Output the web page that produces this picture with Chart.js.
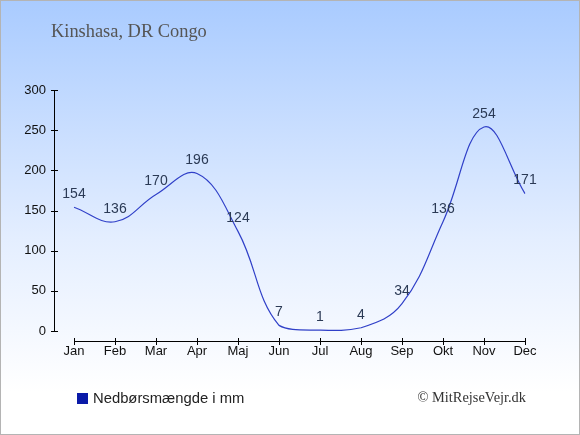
<!DOCTYPE html>
<html>
<head>
<meta charset="utf-8">
<script src="https://cdn.jsdelivr.net/npm/chart.js@4/dist/chart.umd.min.js"></script>
<style>
html,body{margin:0;padding:0;background:#fff;}
#wrap{width:580px;height:435px;position:relative;}
</style>
</head>
<body>
<div id="wrap"><canvas id="c" width="580" height="435"></canvas></div>
<script>
const months = ["Jan","Feb","Mar","Apr","Maj","Jun","Jul","Aug","Sep","Okt","Nov","Dec"];
const precipitation = [154,136,170,196,124,7,1,4,34,136,254,171];
const yTicks = [0,50,100,150,200,250,300];
const titleText = "Kinshasa, DR Congo";
const legendText = "Nedbørsmængde i mm";
const creditText = "© MitRejseVejr.dk";

const decor = {
  id:'decor',
  beforeDraw(chart){
    const ctx = chart.ctx, W = chart.width, H = chart.height;
    ctx.save();
    const g = ctx.createLinearGradient(0,0,0,H);
    g.addColorStop(0,'#a9cbff');
    g.addColorStop(0.55,'#e4eeff');
    g.addColorStop(0.9,'#ffffff');
    g.addColorStop(1,'#ffffff');
    ctx.fillStyle = g;
    ctx.fillRect(0,0,W,H);
    ctx.strokeStyle = '#b4b4b4';
    ctx.lineWidth = 1;
    ctx.strokeRect(0.5,0.5,W-1,H-1);
    // title
    ctx.fillStyle = '#555555';
    ctx.font = '18.4px "Liberation Serif", "DejaVu Serif", serif';
    ctx.textBaseline = 'middle';
    ctx.textAlign = 'left';
    ctx.fillText(titleText, 51, 32);
    // axes
    const xs = chart.scales.x, ys = chart.scales.y;
    ctx.strokeStyle = '#000';
    ctx.lineWidth = 1;
    const ax = 54.5;
    ctx.beginPath();
    ctx.moveTo(ax, Math.round(ys.getPixelForValue(300)));
    ctx.lineTo(ax, Math.round(ys.getPixelForValue(0))+0.5);
    yTicks.forEach(v=>{
      const y = Math.round(ys.getPixelForValue(v))+0.5;
      ctx.moveTo(51, y); ctx.lineTo(58, y);
    });
    const ay = 341.5;
    ctx.moveTo(Math.round(xs.getPixelForValue(0)), ay);
    ctx.lineTo(Math.round(xs.getPixelForValue(months.length-1))+1, ay);
    months.forEach((m,i)=>{
      const x = Math.round(xs.getPixelForValue(i))+0.5;
      ctx.moveTo(x, 338); ctx.lineTo(x, 345);
    });
    ctx.stroke();
    // legend
    ctx.fillStyle = '#0a1aa8';
    ctx.fillRect(77,393,11,11);
    ctx.fillStyle = '#222222';
    ctx.font = '14.8px "Liberation Sans", Arial, sans-serif';
    ctx.textAlign = 'left';
    ctx.fillText(legendText, 93, 398.5);
    ctx.fillStyle = '#333333';
    ctx.font = '14.4px "Liberation Serif", "DejaVu Serif", serif';
    ctx.textAlign = 'right';
    ctx.fillText(creditText, 526, 398);
    ctx.restore();
  },
  afterDatasetsDraw(chart){
    const ctx = chart.ctx;
    const meta = chart.getDatasetMeta(0);
    ctx.save();
    ctx.fillStyle = '#2b3a55';
    ctx.font = '14px "Liberation Sans", Arial, sans-serif';
    ctx.textAlign = 'center';
    ctx.textBaseline = 'middle';
    meta.data.forEach((pt,i)=>{
      ctx.fillText(String(precipitation[i]), pt.x, pt.y - 13);
    });
    ctx.restore();
  }
};

new Chart(document.getElementById('c'), {
  type:'line',
  data:{
    labels: months,
    datasets:[{
      label: legendText,
      data: precipitation,
      borderColor:'#3040c8',
      borderWidth:1.2,
      pointRadius:0,
      pointHoverRadius:0,
      fill:false,
      tension:0.4
    }]
  },
  options:{
    responsive:false,
    animation:false,
    devicePixelRatio:1,
    layout:{padding:{top:90,right:55,bottom:0,left:0}},
    plugins:{legend:{display:false},tooltip:{enabled:false},title:{display:false}},
    scales:{
      x:{
        type:'category',
        offset:false,
        grid:{display:false,drawTicks:false},
        border:{display:false},
        afterFit(s){ s.height = 104; },
        ticks:{color:'#111',font:{family:'"Liberation Sans", Arial, sans-serif',size:13},padding:13,maxRotation:0,autoSkip:false}
      },
      y:{
        min:0,max:300,
        grid:{display:false,drawTicks:false},
        border:{display:false},
        afterFit(s){ s.width = 74; },
        afterBuildTicks(s){ s.ticks = yTicks.map(v=>({value:v})); },
        ticks:{color:'#111',font:{family:'"Liberation Sans", Arial, sans-serif',size:13},padding:28}
      }
    }
  },
  plugins:[decor]
});
</script>
</body>
</html>
